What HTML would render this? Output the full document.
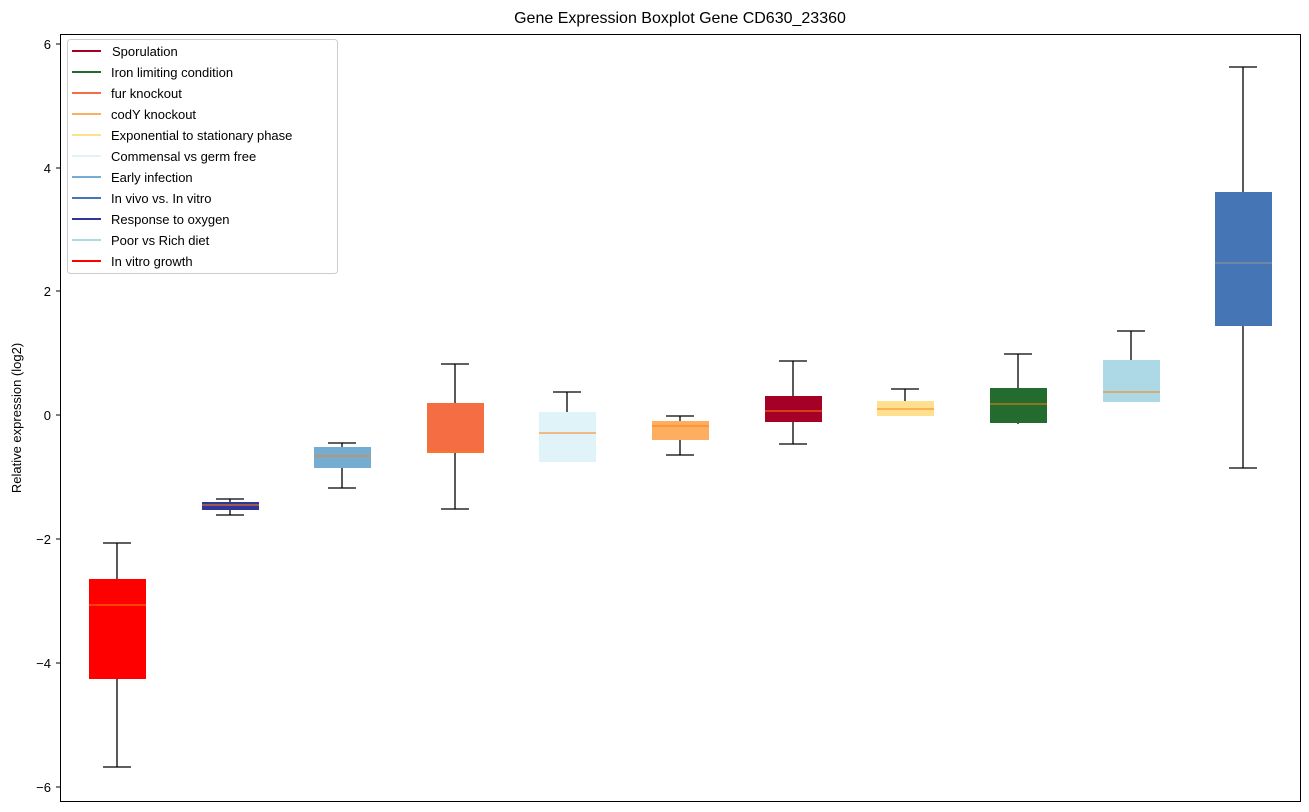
<!DOCTYPE html>
<html><head><meta charset="utf-8"><style>body{margin:0;background:#fff}svg{display:block;font-family:"Liberation Sans","DejaVu Sans",sans-serif}</style></head><body>
<svg width="1309" height="812" xmlns="http://www.w3.org/2000/svg">
<text x="680" y="23" font-size="16" text-anchor="middle">Gene Expression Boxplot Gene CD630_23360</text>
<text transform="translate(21,418) rotate(-90)" font-size="13" text-anchor="middle">Relative expression (log2)</text>
<g font-size="13" text-anchor="end">
<text x="51" y="49">6</text><text x="51" y="173">4</text><text x="51" y="296">2</text><text x="51" y="420">0</text><text x="51" y="544">−2</text><text x="51" y="668">−4</text><text x="51" y="792">−6</text>
</g>
<g stroke="#000"><line x1="56" y1="44" x2="60" y2="44"/><line x1="56" y1="168" x2="60" y2="168"/><line x1="56" y1="291" x2="60" y2="291"/><line x1="56" y1="415" x2="60" y2="415"/><line x1="56" y1="539" x2="60" y2="539"/><line x1="56" y1="663" x2="60" y2="663"/><line x1="56" y1="787" x2="60" y2="787"/></g>
<g stroke="#000" stroke-width="1.3">
<!-- whiskers: cx, lo, hi -->
<line x1="117" y1="543" x2="117" y2="767"/><line x1="103" y1="543" x2="131" y2="543"/><line x1="103" y1="767" x2="131" y2="767"/>
<line x1="230" y1="499" x2="230" y2="515"/><line x1="216" y1="499" x2="244" y2="499"/><line x1="216" y1="515" x2="244" y2="515"/>
<line x1="342" y1="443" x2="342" y2="488"/><line x1="328" y1="443" x2="356" y2="443"/><line x1="328" y1="488" x2="356" y2="488"/>
<line x1="455" y1="364" x2="455" y2="509"/><line x1="441" y1="364" x2="469" y2="364"/><line x1="441" y1="509" x2="469" y2="509"/>
<line x1="567" y1="392" x2="567" y2="462"/><line x1="553" y1="392" x2="581" y2="392"/>
<line x1="680" y1="416" x2="680" y2="455"/><line x1="666" y1="416" x2="694" y2="416"/><line x1="666" y1="455" x2="694" y2="455"/>
<line x1="793" y1="361" x2="793" y2="444"/><line x1="779" y1="361" x2="807" y2="361"/><line x1="779" y1="444" x2="807" y2="444"/>
<line x1="905" y1="389" x2="905" y2="416"/><line x1="891" y1="389" x2="919" y2="389"/>
<line x1="1018" y1="354" x2="1018" y2="424"/><line x1="1004" y1="354" x2="1032" y2="354"/>
<line x1="1131" y1="331" x2="1131" y2="402"/><line x1="1117" y1="331" x2="1145" y2="331"/>
<line x1="1243" y1="67" x2="1243" y2="468"/><line x1="1229" y1="67" x2="1257" y2="67"/><line x1="1229" y1="468" x2="1257" y2="468"/>
</g>
<g>
<rect x="89" y="579" width="57" height="100" fill="#ff0000"/><line x1="89" x2="146" y1="605" y2="605" stroke="#ff7f0e"/>
<rect x="202" y="502" width="57" height="8" fill="#313695"/><line x1="202" x2="259" y1="505" y2="505" stroke="#ff7f0e"/>
<rect x="314" y="447" width="57" height="21" fill="#74add1"/><line x1="314" x2="371" y1="456" y2="456" stroke="#ff7f0e"/>
<rect x="427" y="403" width="57" height="50" fill="#f46d43"/><line x1="427" x2="484" y1="452" y2="452" stroke="#ff7f0e"/>
<rect x="539" y="412" width="57" height="50" fill="#e0f3f8"/><line x1="539" x2="596" y1="433" y2="433" stroke="#ff7f0e"/>
<rect x="652" y="421" width="57" height="19" fill="#fdae61"/><line x1="652" x2="709" y1="426" y2="426" stroke="#ff7f0e"/>
<rect x="765" y="396" width="57" height="26" fill="#a50026"/><line x1="765" x2="822" y1="411" y2="411" stroke="#ff7f0e"/>
<rect x="877" y="401" width="57" height="15" fill="#fee090"/><line x1="877" x2="934" y1="409" y2="409" stroke="#ff7f0e"/>
<rect x="990" y="388" width="57" height="35" fill="#236b2e"/><line x1="990" x2="1047" y1="404" y2="404" stroke="#ff7f0e"/>
<rect x="1103" y="360" width="57" height="42" fill="#add8e6"/><line x1="1103" x2="1160" y1="392" y2="392" stroke="#ff7f0e"/>
<rect x="1215" y="192" width="57" height="134" fill="#4575b4"/><line x1="1215" x2="1272" y1="263" y2="263" stroke="#999"/>
</g>
<rect x="60.5" y="34.5" width="1240" height="767" fill="none" stroke="#000"/>
<rect x="67.5" y="39.5" width="270" height="234" rx="3" fill="#fff" fill-opacity="0.8" stroke="#ccc"/>
<g stroke-width="2">
<line x1="72" x2="101" y1="51" y2="51" stroke="#a50026"/>
<line x1="72" x2="101" y1="72" y2="72" stroke="#236b2e"/>
<line x1="72" x2="101" y1="93" y2="93" stroke="#f46d43"/>
<line x1="72" x2="101" y1="114" y2="114" stroke="#fdae61"/>
<line x1="72" x2="101" y1="135" y2="135" stroke="#fee090"/>
<line x1="72" x2="101" y1="156" y2="156" stroke="#e0f3f8"/>
<line x1="72" x2="101" y1="177" y2="177" stroke="#74add1"/>
<line x1="72" x2="101" y1="198" y2="198" stroke="#4575b4"/>
<line x1="72" x2="101" y1="219" y2="219" stroke="#313695"/>
<line x1="72" x2="101" y1="240" y2="240" stroke="#add8e6"/>
<line x1="72" x2="101" y1="261" y2="261" stroke="#ff0000"/>
</g>
<g font-size="13">
<text x="112" y="56">Sporulation</text>
<text x="111" y="77">Iron limiting condition</text>
<text x="111" y="98">fur knockout</text>
<text x="111" y="119">codY knockout</text>
<text x="111" y="140">Exponential to stationary phase</text>
<text x="111" y="161">Commensal vs germ free</text>
<text x="111" y="182">Early infection</text>
<text x="111" y="203">In vivo vs. In vitro</text>
<text x="111" y="224">Response to oxygen</text>
<text x="111" y="245">Poor vs Rich diet</text>
<text x="111" y="266">In vitro growth</text>
</g>
</svg>
</body></html>
